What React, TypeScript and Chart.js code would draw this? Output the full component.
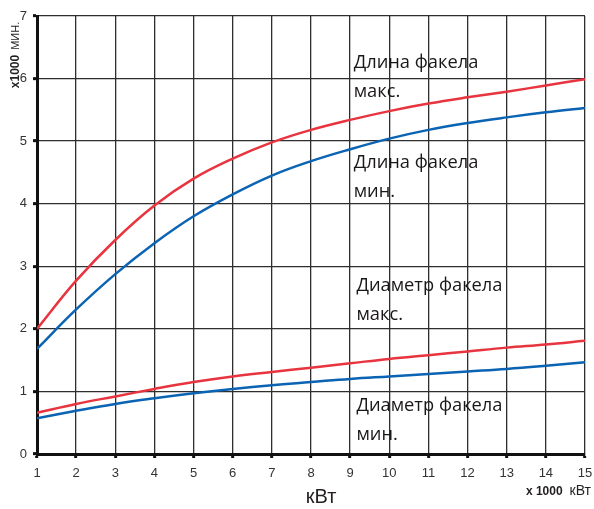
import React, { useEffect, useRef } from "react";
import { Chart, registerables } from "chart.js";

Chart.register(...registerables);

const xValues = [1, 2, 3, 4, 5, 6, 7, 8, 9, 10, 11, 12, 13, 14, 15];
const lengthMax = [2.0, 2.77, 3.42, 3.97, 4.4, 4.72, 4.98, 5.18, 5.34, 5.48, 5.6, 5.7, 5.79, 5.89, 5.99];
const lengthMin = [1.68, 2.31, 2.875, 3.37, 3.8, 4.15, 4.45, 4.68, 4.87, 5.04, 5.18, 5.29, 5.38, 5.46, 5.53];
const diameterMax = [0.66, 0.8, 0.92, 1.04, 1.15, 1.24, 1.31, 1.38, 1.45, 1.52, 1.58, 1.64, 1.7, 1.75, 1.81];
const diameterMin = [0.57, 0.69, 0.8, 0.89, 0.97, 1.04, 1.1, 1.15, 1.2, 1.24, 1.28, 1.32, 1.36, 1.41, 1.465];

const yTicks = [0, 1, 2, 3, 4, 5, 6, 7];

const curveLabels = [
  { lines: ["Длина факела", "макс."], x: 9.09, y: 6.17 },
  { lines: ["Длина факела", "мин."], x: 9.09, y: 4.57 },
  { lines: ["Диаметр факела", "макс."], x: 9.16, y: 2.605 },
  { lines: ["Диаметр факела", "мин."], x: 9.16, y: 0.687 },
];

const RED = "#e8343f";
const BLUE = "#0b63b3";

const textPlugin = {
  id: "customText",
  afterDraw(chart: any) {
    const ctx = chart.ctx;
    const xs = chart.scales.x;
    const ys = chart.scales.y;
    ctx.save();
    ctx.fillStyle = "#1a1718";
    ctx.font = '18.3px "Open Sans"';
    ctx.textAlign = "left";
    ctx.textBaseline = "alphabetic";
    for (const lab of curveLabels) {
      const px = xs.getPixelForValue(lab.x);
      const py = ys.getPixelForValue(lab.y);
      lab.lines.forEach((t, i) => ctx.fillText(t, px, py + i * 29));
    }
    ctx.fillStyle = "#231f20";
    ctx.font = '20px "Liberation Sans"';
    ctx.textAlign = "center";
    ctx.textBaseline = "middle";
    ctx.fillText("кВт", 321, 497);
    ctx.textAlign = "right";
    ctx.textBaseline = "alphabetic";
    ctx.font = '14px "Liberation Sans"';
    const unitW = ctx.measureText("кВт").width;
    ctx.fillText("кВт", 591, 495);
    ctx.font = 'bold 12px "Liberation Sans"';
    ctx.fillText("x 1000", 591 - unitW - 7, 495);
    ctx.translate(19, 55);
    ctx.rotate(-Math.PI / 2);
    ctx.textAlign = "left";
    ctx.font = 'bold 12px "Liberation Sans"';
    const a = "x1000";
    const aw = ctx.measureText(a).width;
    ctx.font = '11px "Liberation Sans"';
    const b = "МИН.";
    const bw = ctx.measureText(b).width;
    const total = aw + 5 + bw;
    ctx.font = 'bold 12px "Liberation Sans"';
    ctx.fillText(a, -total / 2, 0);
    ctx.font = '11px "Liberation Sans"';
    ctx.fillText(b, -total / 2 + aw + 5, 0);
    ctx.restore();
  },
};

export default function App() {
  const ref = useRef<HTMLCanvasElement | null>(null);
  useEffect(() => {
    if (!ref.current) return;
    const mk = (data: number[], color: string) => ({
      data: xValues.map((x, i) => ({ x, y: data[i] })),
      borderColor: color,
      borderWidth: 2.5,
      pointRadius: 0,
      tension: 0.4,
      fill: false,
    });
    const chart = new Chart(ref.current, {
      type: "line",
      data: {
        datasets: [
          mk(lengthMax, RED),
          mk(lengthMin, BLUE),
          mk(diameterMax, RED),
          mk(diameterMin, BLUE),
        ],
      },
      options: {
        animation: false,
        responsive: false,
        layout: { padding: { top: 16, right: 9, left: 0, bottom: 0 } },
        plugins: { legend: { display: false }, tooltip: { enabled: false } },
        scales: {
          x: {
            type: "linear",
            min: 1,
            max: 15,
            afterFit: (s: any) => {
              s.height = 55;
              s.paddingLeft = 0;
              s.paddingRight = 0;
            },
            ticks: {
              stepSize: 1,
              color: "#333",
              font: { family: "Liberation Sans", size: 13 },
              padding: 8,
              maxRotation: 0,
            },
            grid: {
              color: "#2e2e2e",
              lineWidth: 1.3,
              tickColor: "#111",
              tickWidth: 3,
              tickLength: 4,
            },
            border: { color: "#111", width: 3 },
          },
          y: {
            min: 0,
            max: 7,
            afterFit: (s: any) => {
              s.width = 37;
              s.paddingTop = 0;
              s.paddingBottom = 0;
            },
            afterBuildTicks: (s: any) => {
              s.ticks = yTicks.map((v) => ({ value: v }));
            },
            ticks: {
              color: "#333",
              font: { family: "Liberation Sans", size: 13 },
              padding: 6,
            },
            grid: {
              color: "#2e2e2e",
              lineWidth: 1.3,
              tickColor: "#111",
              tickWidth: 3,
              tickLength: 4,
            },
            border: { color: "#111", width: 3 },
          },
        },
      },
      plugins: [textPlugin],
    });
    return () => chart.destroy();
  }, []);
  return (
    <div style={{ position: "absolute", left: 0, top: 0, width: 594, height: 509, background: "#fff" }}>
      <canvas ref={ref} width={594} height={509} />
    </div>
  );
}
